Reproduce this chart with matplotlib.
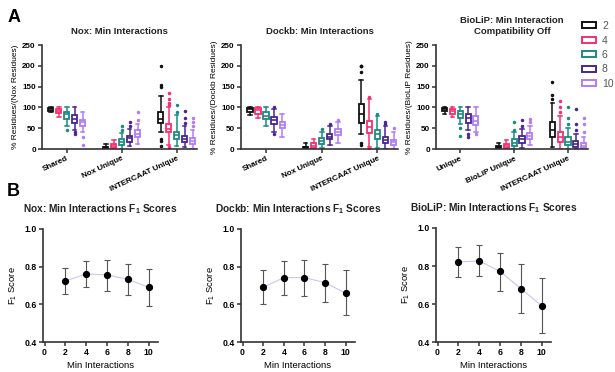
import matplotlib
matplotlib.use("Agg")
import matplotlib.pyplot as plt
from matplotlib.patches import Patch

plt.rcParams['font.family'] = ['Liberation Sans', 'DejaVu Sans']
plt.rcParams['font.weight'] = 'bold'
plt.rcParams['mathtext.default'] = 'regular'

# ---------------- data ----------------
min_levels = ['2', '4', '6', '8', '10']
level_colors = ['#111111', '#f5306f', '#1b8c82', '#4a2595', '#b27cf5']

nox_categories = ['Shared', 'Nox Unique', 'INTERCAAT Unique']
dockb_categories = ['Shared', 'Nox Unique', 'INTERCAAT Unique']
biolip_categories = ['Unique', 'BioLiP Unique', 'INTERCAAT Unique']

# box statistics [category][min level]
nox_lo = [[88, 78, 55, 45, 40], [0, 0, 0, 8, 12], [40, 10, 8, 5, 0]]
nox_q1 = [[92, 86, 72, 62, 55], [2, 3, 10, 18, 28], [62, 40, 25, 17, 12]]
nox_med = [[96, 92, 83, 73, 64], [4, 7, 17, 27, 37], [72, 48, 33, 25, 20]]
nox_q3 = [[98, 96, 90, 82, 70], [6, 12, 23, 32, 45], [90, 60, 42, 32, 27]]
nox_hi = [[100, 100, 100, 100, 90], [12, 22, 38, 47, 60], [128, 100, 82, 55, 45]]
nox_fliers = [[[], [], [45], [40, 35], [10, 30]],
              [[], [], [45, 55], [55, 65], [70, 88]],
              [[150, 155, 200, 8, 20, 25], [105, 110, 120, 135, 5], [90, 105], [62, 75, 92], [55, 65, 75]]]

dockb_lo = [[82, 75, 55, 40, 28], [0, 0, 2, 10, 15], [35, 5, 3, 0, 0]]
dockb_q1 = [[90, 85, 72, 60, 50], [2, 2, 12, 24, 33], [62, 38, 23, 15, 10]]
dockb_med = [[95, 94, 80, 70, 58], [4, 7, 19, 30, 41], [85, 52, 35, 22, 16]]
dockb_q3 = [[98, 98, 88, 78, 66], [6, 14, 26, 35, 48], [108, 68, 45, 30, 22]]
dockb_hi = [[100, 100, 100, 95, 85], [15, 25, 40, 55, 65], [165, 120, 80, 55, 40]]
dockb_fliers = [[[], [], [], [35, 100], []],
                [[], [], [48], [60], [70]],
                [[185, 200, 200, 200, 10, 15], [125, 0], [85], [60, 65], [50]]]

biolip_lo = [[85, 78, 60, 45, 40], [0, 0, 0, 3, 10], [5, 0, 0, 0, 0]]
biolip_q1 = [[92, 85, 75, 62, 58], [2, 3, 8, 15, 24], [30, 18, 10, 5, 2]]
biolip_med = [[96, 92, 85, 75, 68], [5, 7, 15, 25, 32], [45, 28, 18, 12, 8]]
biolip_q3 = [[99, 97, 92, 85, 80], [8, 13, 25, 32, 38], [65, 42, 28, 20, 15]]
biolip_hi = [[100, 100, 100, 100, 100], [14, 22, 40, 48, 55], [110, 80, 50, 35, 30]]
biolip_fliers = [[[], [], [32, 50], [30, 35], [35]],
                 [[], [], [45, 65], [55, 70], [65, 72]],
                 [[120, 130, 160], [90, 100, 115], [60, 75, 100], [45, 60, 95], [40, 60, 75]]]

# F1 scores
f1_x = [2, 4, 6, 8, 10]
nox_f1 = [0.724, 0.761, 0.756, 0.733, 0.690]
nox_f1_hi = [0.791, 0.832, 0.835, 0.814, 0.786]
nox_f1_lo = [0.655, 0.690, 0.673, 0.647, 0.593]
dockb_f1 = [0.690, 0.742, 0.742, 0.715, 0.659]
dockb_f1_hi = [0.782, 0.832, 0.836, 0.814, 0.780]
dockb_f1_lo = [0.600, 0.652, 0.645, 0.612, 0.546]
biolip_f1 = [0.821, 0.827, 0.772, 0.681, 0.591]
biolip_f1_hi = [0.901, 0.910, 0.871, 0.809, 0.736]
biolip_f1_lo = [0.740, 0.745, 0.667, 0.554, 0.446]

# ---------------- figure ----------------
W, H = 615, 372
fig = plt.figure(figsize=(W / 100, H / 100), dpi=100)


def ax_px(left, right, top, bottom):
    return fig.add_axes([left / W, 1 - bottom / H, (right - left) / W, (bottom - top) / H])


spine_c = '#333333'


def style(ax, labelsize=6):
    for s in ['top', 'right']:
        ax.spines[s].set_visible(False)
    for s in ['left', 'bottom']:
        ax.spines[s].set_linewidth(1.2)
        ax.spines[s].set_color(spine_c)
    ax.tick_params(axis='both', length=3, width=1.1, color=spine_c, labelsize=labelsize, pad=1.5)
    for lbl in ax.get_xticklabels() + ax.get_yticklabels():
        lbl.set_fontweight('bold')


def box_panel(ax, cats, lo, q1, med, q3, hi, fl, title, ylabel):
    offs = [-0.29, -0.145, 0, 0.145, 0.29]
    for ci in range(len(cats)):
        for li in range(len(min_levels)):
            st = dict(whislo=lo[ci][li], q1=q1[ci][li], med=med[ci][li], q3=q3[ci][li],
                      whishi=hi[ci][li], fliers=fl[ci][li])
            c = level_colors[li]
            ax.bxp([st], positions=[ci + offs[li]], widths=0.095, showfliers=True,
                   patch_artist=True,
                   boxprops=dict(facecolor='white', edgecolor=c, linewidth=1.3),
                   medianprops=dict(color=c, linewidth=1.2),
                   whiskerprops=dict(color=c, linewidth=1.1),
                   capprops=dict(color=c, linewidth=1.1),
                   capwidths=0.065,
                   flierprops=dict(marker='o', markersize=1.5, markerfacecolor=c,
                                   markeredgecolor=c, linestyle='none'))
    ax.set_xlim(-0.45, 2.37)
    ax.set_ylim(0, 250)
    ax.set_yticks([0, 50, 100, 150, 200, 250])
    ax.set_xticks(range(len(cats)))
    ax.set_xticklabels(cats, rotation=25, ha='right', rotation_mode='anchor')
    style(ax, 5.8)
    ax.set_title(title, fontsize=6.8, fontweight='bold', pad=8, color='#222222')
    ax.set_ylabel(ylabel, fontsize=6.0, labelpad=2)


ax1 = ax_px(42, 197, 45, 149)
box_panel(ax1, nox_categories, nox_lo, nox_q1, nox_med, nox_q3, nox_hi, nox_fliers,
          'Nox: Min Interactions', '% Residues/(Nox Residues)')
ax2 = ax_px(241, 398, 45, 149)
box_panel(ax2, dockb_categories, dockb_lo, dockb_q1, dockb_med, dockb_q3, dockb_hi, dockb_fliers,
          'Dockb: Min Interactions', '% Residues/(Dockb Residues)')
ax3 = ax_px(436, 588, 45, 149)
box_panel(ax3, biolip_categories, biolip_lo, biolip_q1, biolip_med, biolip_q3, biolip_hi, biolip_fliers,
          'BioLiP: Min Interaction\nCompatibility Off', '% Residues/(BioLiP Residues)')

handles = [Patch(facecolor='white', edgecolor=c, linewidth=1.4) for c in level_colors]
leg = fig.legend(handles, min_levels, loc='upper left', bbox_to_anchor=(578 / W, 1 - 17 / H),
                 frameon=False, fontsize=7.5, handlelength=1.3, handleheight=0.5,
                 labelspacing=0.42, handletextpad=0.6, borderaxespad=0)
for t in leg.get_texts():
    t.set_color('#555555')
    t.set_fontweight('normal')


def f1_panel(ax, y, yhi, ylo, title):
    ax.plot(f1_x, y, color='#c9c6f2', linewidth=0.8, zorder=1)
    err = [[a - b for a, b in zip(y, ylo)], [b - a for a, b in zip(y, yhi)]]
    ax.errorbar(f1_x, y, yerr=err, fmt='none', ecolor='#555555', elinewidth=0.8,
                capsize=2, capthick=0.8, zorder=2)
    ax.plot(f1_x, y, 'o', color='black', markersize=4.2, zorder=3)
    ax.set_xlim(-0.15, 10.9)
    ax.set_ylim(0.4, 1.0)
    ax.set_xticks([0, 2, 4, 6, 8, 10])
    ax.set_yticks([0.4, 0.6, 0.8, 1.0])
    ax.set_yticklabels(['0.4', '0.6', '0.8', '1.0'])
    style(ax, 6.2)
    ax.set_title(title, fontsize=7.3, fontweight='bold', pad=12, color='#222222')
    ax.set_xlabel('Min Interactions', fontsize=6.8, labelpad=3)
    ax.set_ylabel('F$_1$ Score', fontsize=6.8, labelpad=4)


b1 = ax_px(43, 158, 229, 342)
f1_panel(b1, nox_f1, nox_f1_hi, nox_f1_lo, 'Nox: Min Interactions F$_1$ Scores')
b2 = ax_px(241, 355, 229, 342)
f1_panel(b2, dockb_f1, dockb_f1_hi, dockb_f1_lo, 'Dockb: Min Interactions F$_1$ Scores')
b3 = ax_px(436, 551, 228, 342)
f1_panel(b3, biolip_f1, biolip_f1_hi, biolip_f1_lo, 'BioLiP: Min Interactions F$_1$ Scores')

fig.text(14 / W, 1 - 18 / H, 'A', fontsize=13, fontweight='bold', va='center', ha='center')
fig.text(13 / W, 1 - 192 / H, 'B', fontsize=13, fontweight='bold', va='center', ha='center')

fig.savefig('out.png', dpi=100, facecolor='white')
